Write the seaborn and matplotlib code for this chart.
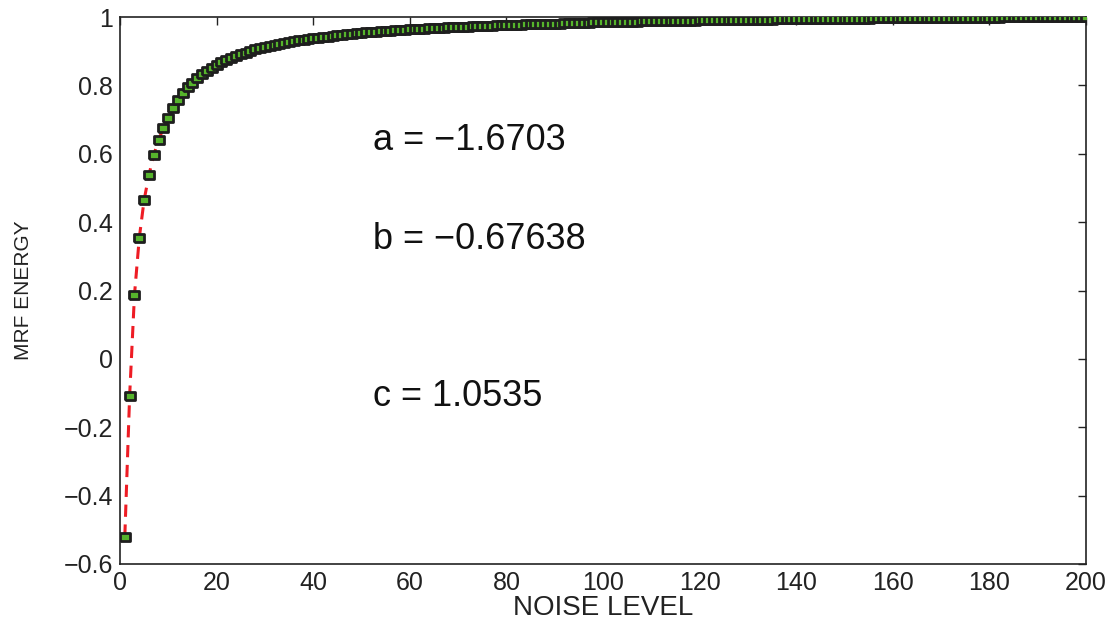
import numpy as np
import pandas as pd
import seaborn as sns
import matplotlib.pyplot as plt

# niveles de ruido 1..200
noise_level = list(range(1, 201))

# energia MRF
mrf_energy = [
    -0.520, -0.108, 0.187, 0.354, 0.465, 0.538, 0.597, 0.640, 0.676, 0.705,
    0.733, 0.757, 0.777, 0.794, 0.808, 0.821, 0.833, 0.843, 0.852, 0.860,
    0.868, 0.874, 0.881, 0.886, 0.891, 0.896, 0.901, 0.905, 0.908, 0.912,
    0.915, 0.918, 0.921, 0.924, 0.927, 0.929, 0.932, 0.934, 0.936, 0.938,
    0.940, 0.942, 0.943, 0.945, 0.947, 0.948, 0.949, 0.951, 0.952, 0.953,
    0.955, 0.956, 0.957, 0.958, 0.959, 0.960, 0.961, 0.962, 0.963, 0.964,
    0.965, 0.965, 0.966, 0.967, 0.968, 0.968, 0.969, 0.970, 0.971, 0.971,
    0.972, 0.972, 0.973, 0.974, 0.974, 0.975, 0.975, 0.976, 0.976, 0.977,
    0.977, 0.978, 0.978, 0.979, 0.979, 0.979, 0.980, 0.980, 0.981, 0.981,
    0.981, 0.982, 0.982, 0.982, 0.983, 0.983, 0.983, 0.984, 0.984, 0.984,
    0.985, 0.985, 0.985, 0.986, 0.986, 0.986, 0.986, 0.987, 0.987, 0.987,
    0.988, 0.988, 0.988, 0.988, 0.989, 0.989, 0.989, 0.989, 0.989, 0.990,
    0.990, 0.990, 0.990, 0.990, 0.991, 0.991, 0.991, 0.991, 0.991, 0.992,
    0.992, 0.992, 0.992, 0.992, 0.992, 0.993, 0.993, 0.993, 0.993, 0.993,
    0.993, 0.994, 0.994, 0.994, 0.994, 0.994, 0.994, 0.995, 0.995, 0.995,
    0.995, 0.995, 0.995, 0.995, 0.995, 0.996, 0.996, 0.996, 0.996, 0.996,
    0.996, 0.996, 0.996, 0.997, 0.997, 0.997, 0.997, 0.997, 0.997, 0.997,
    0.997, 0.997, 0.998, 0.998, 0.998, 0.998, 0.998, 0.998, 0.998, 0.998,
    0.998, 0.998, 0.999, 0.999, 0.999, 0.999, 0.999, 0.999, 0.999, 0.999,
    0.999, 0.999, 0.999, 1.000, 1.000, 1.000, 1.000, 1.000, 1.000, 1.000,
]

# parametros del ajuste
fit_labels = ['a = \u22121.6703', 'b = \u22120.67638', 'c = 1.0535']
fit_label_y = [0.64, 0.348, -0.111]

x_ticks = [0, 20, 40, 60, 80, 100, 120, 140, 160, 180, 200]
y_ticks = [-0.6, -0.4, -0.2, 0, 0.2, 0.4, 0.6, 0.8, 1]
y_tick_labels = ['\u22120.6', '\u22120.4', '\u22120.2', '0', '0.2', '0.4', '0.6', '0.8', '1']

df = pd.DataFrame({'noise': noise_level, 'energy': mrf_energy})

sns.set_theme(style='white')
plt.rcParams['font.family'] = ['Liberation Sans', 'DejaVu Sans']

fig = plt.figure(figsize=(11.15, 6.21), dpi=100)
ax = fig.add_axes([0.1076, 0.0918, 0.8664, 0.8808])

# curva de ajuste (discontinua roja)
sns.lineplot(data=df, x='noise', y='energy', ax=ax, color='#ee1c24',
             linewidth=2.2, linestyle=(0, (4, 2.5)), zorder=2)
# datos, marcador rectangular un poco mas ancho que alto
rect = [(-1.35, -1), (1.35, -1), (1.35, 1), (-1.35, 1), (-1.35, -1)]
sns.scatterplot(data=df, x='noise', y='energy', ax=ax, marker=rect, s=52,
                color='#56b42c', edgecolor='#1e1e1e', linewidth=2.0, zorder=3)

for lab, yy in zip(fit_labels, fit_label_y):
    ax.text(52.4, yy, lab, fontsize=26, va='center', ha='left', color='#111111')

ax.set_xlim(0, 200)
ax.set_ylim(-0.6, 1)
ax.set_xticks(x_ticks)
ax.set_xticklabels([str(t) for t in x_ticks])
ax.set_yticks(y_ticks)
ax.set_yticklabels(y_tick_labels)
ax.tick_params(direction='in', length=6, width=1, labelsize=18, colors='#222222',
               top=True, right=True, pad=5)
for s in ax.spines.values():
    s.set_color('#222222')
    s.set_linewidth(1.2)
ax.set_xlabel('NOISE LEVEL', fontsize=20, color='#222222', labelpad=0)
ax.set_ylabel('MRF ENERGY', fontsize=15, color='#222222', labelpad=22)
ax.grid(False)

fig.savefig('out.png', dpi=100)
